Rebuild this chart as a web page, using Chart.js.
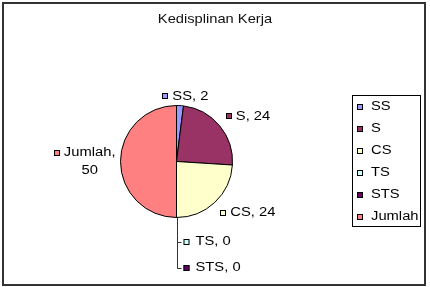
<!DOCTYPE html>
<html><head><meta charset="utf-8">
<script src="https://cdn.jsdelivr.net/npm/chart.js@4/dist/chart.umd.min.js"></script>
<style>html,body{margin:0;padding:0;background:#fff;}canvas{display:block;}</style>
</head><body>
<canvas id="c" width="430" height="287"></canvas>
<script>
const chartTitle = 'Kedisplinan Kerja';
const categories = ['SS', 'S', 'CS', 'TS', 'STS', 'Jumlah'];
const values = [2, 24, 24, 0, 0, 50];
const colors = ['#9999FF', '#993366', '#FFFFCC', '#CCFFFF', '#660066', '#FF8080'];

const FONT = '"Liberation Sans", Arial, sans-serif';
const SX = 1.18;

function sText(ctx, str, x, y, align, sx) {
  const w = ctx.measureText(str).width * sx;
  let left = x;
  if (align === 'center') left = x - w / 2; else if (align === 'right') left = x - w;
  ctx.save(); ctx.translate(left, y); ctx.scale(sx, 1); ctx.textAlign = 'left'; ctx.fillText(str, 0, 0); ctx.restore();
  return w;
}
function tw(ctx, str, sx) { return ctx.measureText(str).width * sx; }
function marker(ctx, x, yc, color) {
  const top = Math.round(yc - 3);
  ctx.fillStyle = color; ctx.fillRect(x, top, 6, 6);
  ctx.strokeStyle = '#000'; ctx.lineWidth = 1; ctx.strokeRect(x + 0.5, top + 0.5, 5, 5);
}

const decor = {
  id: 'decor',
  afterDraw(chart) {
    const ctx = chart.ctx;
    ctx.save();
    // frame
    ctx.strokeStyle = '#333'; ctx.lineWidth = 2; ctx.strokeRect(3, 3, 422, 282);
    // title
    ctx.fillStyle = '#111'; ctx.textBaseline = 'middle';
    ctx.font = '13px ' + FONT;
    sText(ctx, chartTitle, 215, 19, 'center', 1.13);
    // legend
    ctx.strokeStyle = '#000'; ctx.lineWidth = 1; ctx.strokeRect(352.5, 95.5, 68, 131);
    ctx.font = '12.5px ' + FONT;
    categories.forEach((c, i) => {
      const yc = 106.5 + i * 22.1;
      marker(ctx, 357, yc, colors[i]);
      ctx.fillStyle = '#000';
      sText(ctx, c, 371, yc, 'left', SX);
    });
    // data labels
    const meta = chart.getDatasetMeta(0);
    let zeroK = 0; let lastZeroY = null; let cx0 = 0, bottom0 = 0;
    meta.data.forEach((arc, i) => {
      const p = arc.getProps(['x', 'y', 'startAngle', 'endAngle', 'outerRadius'], true);
      const R = p.outerRadius;
      const mid = (p.startAngle + p.endAngle) / 2;
      const cs = Math.cos(mid), sn = Math.sin(mid);
      if (values[i] === 0) {
        const ex = p.x + R * cs, ey = p.y + R * sn;
        const yc = ey + 24 + 26 * zeroK;
        cx0 = Math.round(ex) + 0.5; bottom0 = ey; lastZeroY = yc;
        ctx.strokeStyle = '#333'; ctx.lineWidth = 1;
        ctx.beginPath(); ctx.moveTo(cx0, Math.round(yc) + 0.5); ctx.lineTo(cx0 + 4, Math.round(yc) + 0.5); ctx.stroke();
        marker(ctx, cx0 + 6, yc, colors[i]);
        ctx.fillStyle = '#000';
        sText(ctx, categories[i] + ', ' + values[i], cx0 + 18, yc, 'left', SX);
        zeroK++;
        return;
      }
      const Px = p.x + (R + 8) * cs;
      const Py = p.y + (R + 9) * sn + 8 * sn * Math.abs(cs);
      let lines = [categories[i] + ', ' + values[i]];
      if (10 + tw(ctx, lines[0], SX) > 72) lines = [categories[i] + ',', String(values[i])];
      const textW = Math.max(...lines.map(l => tw(ctx, l, SX)));
      const W = 10 + textW, H = lines.length * 18;
      let cxb;
      if (cs > 0.3) cxb = Px + W / 2; else if (cs < -0.3) cxb = Px - W / 2 + 3;
      else cxb = Px + (W / 2) * cs / 0.3;
      const left = cxb - W / 2;
      lines.forEach((l, j) => {
        const ly = Py - H / 2 + 9 + 18 * j;
        if (j === 0) marker(ctx, Math.round(left), ly, colors[i]);
        ctx.fillStyle = '#000';
        sText(ctx, l, left + 10 + textW / 2, ly, 'center', SX);
      });
    });
    if (lastZeroY !== null) {
      ctx.strokeStyle = '#333'; ctx.lineWidth = 1;
      ctx.beginPath(); ctx.moveTo(cx0, bottom0); ctx.lineTo(cx0, Math.round(lastZeroY) + 0.5); ctx.stroke();
    }
    ctx.restore();
  }
};

new Chart(document.getElementById('c'), {
  type: 'pie',
  data: {
    labels: categories,
    datasets: [{ data: values, backgroundColor: colors, borderColor: '#000', borderWidth: 1 }]
  },
  options: {
    responsive: false,
    animation: false,
    layout: { padding: { left: 120, right: 197, top: 105, bottom: 69 } },
    plugins: { legend: { display: false }, title: { display: false }, tooltip: { enabled: false } }
  },
  plugins: [decor]
});
</script>
</body></html>
